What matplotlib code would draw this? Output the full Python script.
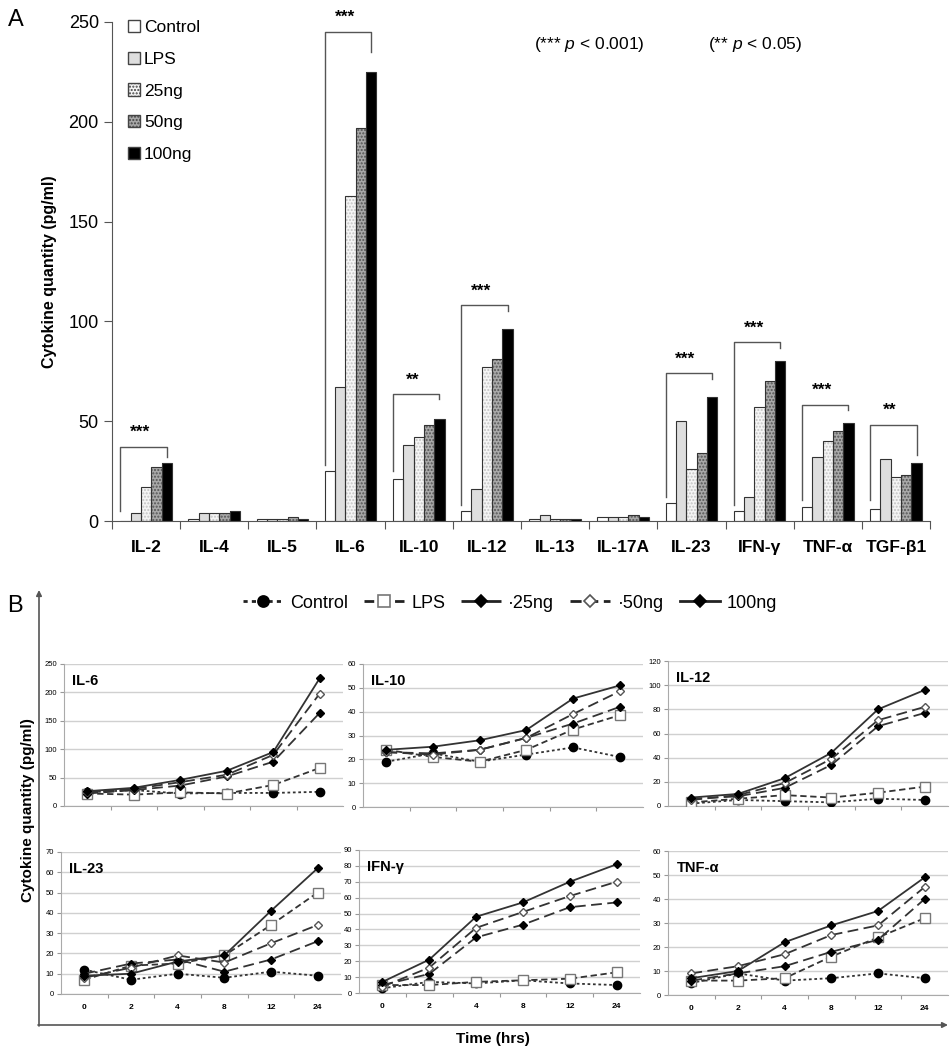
import matplotlib
matplotlib.use('Agg')
import matplotlib.pyplot as plt
from matplotlib.patches import Patch
from matplotlib.lines import Line2D
import numpy as np

plt.rcParams['font.family'] = ['Liberation Sans', 'DejaVu Sans']
plt.rcParams['mathtext.fontset'] = 'custom'
plt.rcParams['mathtext.rm'] = 'Liberation Sans'
plt.rcParams['mathtext.it'] = 'Liberation Sans:italic'

# ---- panel A data
cytokines = ['IL-2', 'IL-4', 'IL-5', 'IL-6', 'IL-10', 'IL-12', 'IL-13',
             'IL-17A', 'IL-23', 'IFN-γ', 'TNF-α', 'TGF-β1']
groups = ['Control', 'LPS', '25ng', '50ng', '100ng']
control = [0, 1, 1, 25, 21, 5, 1, 2, 9, 5, 7, 6]
lps = [4, 4, 1, 67, 38, 16, 3, 2, 50, 12, 32, 31]
ng25 = [17, 4, 1, 163, 42, 77, 1, 2, 26, 57, 40, 22]
ng50 = [27, 4, 2, 197, 48, 81, 1, 3, 34, 70, 45, 23]
ng100 = [29, 5, 1, 225, 51, 96, 1, 2, 62, 80, 49, 29]

# significance brackets (category index, bracket height, left leg end, right leg end)
sig_idx = [0, 3, 4, 5, 8, 9, 10, 11]
sig_top = [37, 245, 63.5, 108, 74, 89.5, 58, 48]
sig_left = [5, 28, 25, 8, 12, 8, 10.5, 10.5]
sig_right = [32, 235, 61, 105, 71, 86.5, 55.5, 33]
sig_text = ['***', '***', '**', '***', '***', '***', '***', '**']

# ---- panel B data
times = ['0', '2', '4', '8', '12', '24']
panels = ['IL-6', 'IL-10', 'IL-12', 'IL-23', 'IFN-γ', 'TNF-α']
ymax = [250, 60, 120, 70, 90, 60]
ystep = [50, 10, 20, 10, 10, 10]

il6 = {'Control': [24, 28, 22, 23, 23, 25], 'LPS': [22, 20, 24, 22, 37, 67],
       '25ng': [22, 28, 36, 52, 78, 164], '50ng': [24, 30, 42, 55, 90, 198],
       '100ng': [26, 32, 46, 62, 95, 225]}
il10 = {'Control': [19, 22.5, 19, 22, 25, 21], 'LPS': [24, 21, 19, 24, 32.5, 38.5],
        '25ng': [23, 22.5, 24, 29, 35, 42], '50ng': [23, 22, 24, 29, 39, 48.5],
        '100ng': [24, 25.3, 28, 32.3, 45.5, 51]}
il12 = {'Control': [2, 5, 4, 3, 6, 5], 'LPS': [3, 6, 9, 7, 11, 16],
        '25ng': [6, 8, 15, 34, 66, 77], '50ng': [5, 9, 19, 39, 71, 82],
        '100ng': [7, 10, 23, 44, 80, 96]}
il23 = {'Control': [12, 7, 10, 8, 11, 9], 'LPS': [7, 14, 15, 19, 34, 50],
        '25ng': [10, 15, 17, 11, 17, 26], '50ng': [8, 13, 19, 15.5, 25, 34],
        '100ng': [9, 10, 16, 19, 41, 62]}
ifng = {'Control': [3, 7, 6, 8, 6, 5], 'LPS': [5, 5, 7, 8, 9, 13],
        '25ng': [5, 12, 35, 43, 54, 57], '50ng': [4, 16, 41, 51, 61, 70],
        '100ng': [7, 21, 48, 57, 70, 81]}
tnfa = {'Control': [5, 9, 6, 7, 9, 7], 'LPS': [6, 6, 7, 16, 24, 32],
        '25ng': [6, 9, 12, 18, 23, 40], '50ng': [9, 12, 17, 25, 29, 45],
        '100ng': [7, 10, 22, 29, 35, 49]}
panel_data = [il6, il10, il12, il23, ifng, tnfa]

W, H = 950, 1050
fig = plt.figure(figsize=(9.5, 10.5), dpi=100)


def px_axes(x0, x1, ytop, ybot):
    return [x0 / W, 1 - ybot / H, (x1 - x0) / W, (ybot - ytop) / H]


# ================= panel A =================
axa = fig.add_axes(px_axes(112, 930, 22, 521))
values = [control, lps, ng25, ng50, ng100]
faces = ['white', '#dedede', '#f5f5f5', '#a8a8a8', 'black']
hatches = [None, None, '.....', '.....', None]
hatch_cols = ['none', 'none', '#c4c4c4', '#555555', 'none']
bw = 0.152
x = np.arange(len(cytokines))
for k in range(5):
    pos = x + (k - 2) * bw
    axa.bar(pos, values[k], width=bw, color=faces[k], edgecolor=hatch_cols[k],
            hatch=hatches[k], linewidth=0, zorder=2)
    axa.bar(pos, values[k], width=bw, color='none', edgecolor='#333333',
            linewidth=0.8, zorder=3, label=groups[k])

for i, c in enumerate(sig_idx):
    xl = c - 2.5 * bw
    xr = c + 2 * bw
    axa.plot([xl, xl, xr, xr], [sig_left[i], sig_top[i], sig_top[i], sig_right[i]],
             color='#555555', lw=1, zorder=4)
    axa.text((xl + xr) / 2 - 0.05, sig_top[i] + 3.5, sig_text[i], ha='center',
             va='bottom', fontsize=12.5, fontweight='bold')

axa.set_xlim(-0.5, len(cytokines) - 0.5)
axa.set_ylim(0, 250)
axa.set_yticks(range(0, 251, 50))
axa.set_xticks(np.arange(-0.5, len(cytokines)), [''] * (len(cytokines) + 1))
axa.set_xticks(x, cytokines, minor=True)
axa.tick_params(axis='x', which='minor', length=0, pad=14, labelsize=12.5)
axa.tick_params(axis='x', which='major', length=6, color='#555555')
axa.tick_params(axis='y', length=6, labelsize=13, color='#555555')
for lab in axa.get_xticklabels(minor=True):
    lab.set_fontweight('bold')
for s in ['top', 'right']:
    axa.spines[s].set_visible(False)
axa.spines['left'].set_color('#555555')
axa.spines['bottom'].set_color('#555555')
axa.set_ylabel('Cytokine quantity (pg/ml)', fontsize=11.5, fontweight='bold',
               labelpad=8)

leg_handles = [Patch(facecolor=faces[k], edgecolor='#444444',
                     hatch=hatches[k], label=groups[k]) for k in range(5)]
plt.rcParams['hatch.color'] = '#777777'
axa.legend(handles=leg_handles, loc='upper left', bbox_to_anchor=(0.0, 1.035),
           frameon=False, fontsize=12.5, handlelength=0.7, handleheight=0.7,
           handletextpad=0.25, labelspacing=0.95)

axa.text(0.584, 0.955, r'(*** $\mathit{p}$ < $\mathit{0.001}$)', transform=axa.transAxes,
         fontsize=12.5, ha='center', va='center')
axa.text(0.786, 0.955, r'(** $\mathit{p}$ < $\mathit{0.05}$)', transform=axa.transAxes,
         fontsize=12.5, ha='center', va='center')

# ================= panel B =================
bg = fig.add_axes([0, 0, 1, 1], zorder=-1)
bg.set_xlim(0, W)
bg.set_ylim(H, 0)
bg.axis('off')
bg.annotate('', xy=(39, 590), xytext=(39, 1026),
            arrowprops=dict(arrowstyle='-|>', color='#555555', lw=1.2,
                            mutation_scale=8, shrinkA=0, shrinkB=0))
bg.annotate('', xy=(948, 1025), xytext=(38, 1025),
            arrowprops=dict(arrowstyle='-|>', color='#555555', lw=1.2,
                            mutation_scale=8, shrinkA=0, shrinkB=0))
bg.text(16, 20, 'A', fontsize=17, ha='center', va='center')
bg.text(15, 606, 'B', fontsize=17, ha='center', va='center')
bg.text(28, 810, 'Cytokine quantity (pg/ml)', rotation=90, fontsize=11,
        fontweight='bold', ha='center', va='center')
bg.text(493, 1039, 'Time (hrs)', fontsize=11, fontweight='bold',
        ha='center', va='center')

boxes = [(64, 343, 664, 806), (363, 643, 664, 807), (668, 948, 661, 806),
         (61, 341, 852, 994), (359, 640, 850, 993), (668, 948, 851, 995)]

styles = {
    'Control': dict(ls=(0, (1.5, 1.5)), marker='o', ms=6, mfc='black', mec='black'),
    'LPS': dict(ls=(0, (3.5, 2)), marker='s', ms=6.5, mfc='white', mec='#777777'),
    '25ng': dict(ls=(0, (6, 3)), marker='D', ms=4.5, mfc='black', mec='black'),
    '50ng': dict(ls=(0, (6, 3)), marker='D', ms=4.5, mfc='white', mec='#555555'),
    '100ng': dict(ls='-', marker='D', ms=4.5, mfc='black', mec='black'),
}
legend_labels = {'Control': 'Control', 'LPS': 'LPS', '25ng': '·25ng',
                 '50ng': '·50ng', '100ng': '100ng'}

tx = np.arange(len(times))
for p, name in enumerate(panels):
    ax = fig.add_axes(px_axes(*boxes[p]))
    data = panel_data[p]
    for g in groups:
        st = styles[g]
        ax.plot(tx, data[g], color='#333333', lw=1.3, ls=st['ls'], marker=st['marker'],
                ms=st['ms'], mfc=st['mfc'], mec=st['mec'], mew=1, zorder=3)
    ax.set_xlim(-0.5, len(times) - 0.5)
    ax.set_ylim(0, ymax[p])
    ax.set_yticks(range(0, ymax[p] + 1, ystep[p]))
    ax.yaxis.grid(True, color='#d0d0d0', lw=1)
    ax.set_axisbelow(True)
    ax.set_xticks(np.arange(0.5, len(times) - 1), [''] * (len(times) - 1))
    if p >= 3:
        ax.set_xticks(tx, times, minor=True)
        for lab in ax.get_xticklabels(minor=True):
            lab.set_fontweight('bold')
    ax.tick_params(axis='x', which='minor', length=0, labelsize=6, pad=7)
    ax.tick_params(axis='x', which='major', length=3, color='#999999')
    ax.tick_params(axis='y', length=3, labelsize=5.5, color='#999999', pad=2)
    for s in ['top', 'right']:
        ax.spines[s].set_visible(False)
    ax.spines['left'].set_color('#aaaaaa')
    ax.spines['bottom'].set_color('#aaaaaa')
    ax.text(0.03, 0.93, name, transform=ax.transAxes, fontsize=10.5,
            fontweight='bold', ha='left', va='top')

b_handles = [Line2D([], [], color='#222222', lw=2, ls=styles[g]['ls'] if g != '50ng' else (0, (4, 2)),
                    marker=styles[g]['marker'], ms=styles[g]['ms'] + 2,
                    mfc=styles[g]['mfc'], mec=styles[g]['mec'], mew=1.2,
                    label=legend_labels[g]) for g in groups]
fig.legend(handles=b_handles, loc='center', bbox_to_anchor=(510 / W, 1 - 603 / H),
           ncol=5, frameon=False, handlelength=2.2, handletextpad=0.4,
           columnspacing=0.9,
           prop={'family': ['Liberation Sans Narrow', 'Liberation Sans', 'DejaVu Sans'],
                 'size': 13})

fig.savefig('out.png', dpi=100)
